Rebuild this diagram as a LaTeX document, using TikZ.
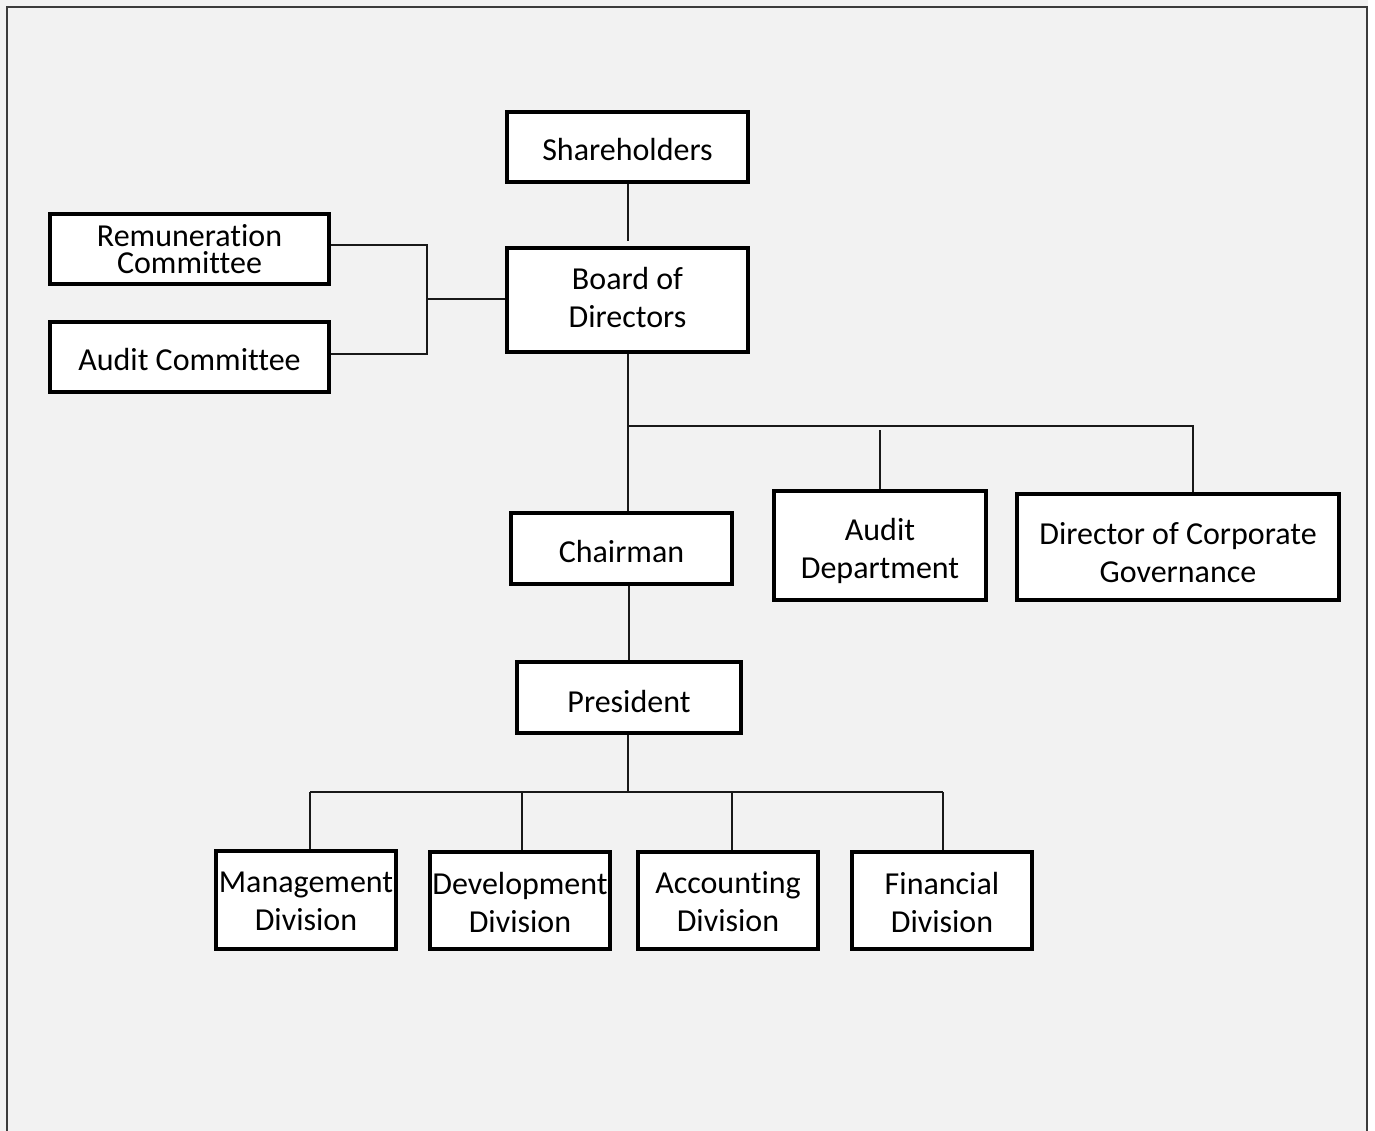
\documentclass[tikz,border=0pt]{standalone}
\usepackage{fontspec}
\setmainfont{Carlito}[Ligatures=NoCommon]
\definecolor{bggray}{HTML}{F2F2F2}
\definecolor{framegray}{HTML}{3C3C3C}
\newcommand\obox[7]{%
  \node[box,sz={#4}{#5}] (#1) at (#2,#3) {};
  \node[txt] (#1t) at (#2,#3+#6) {#7};}
\begin{document}
\begin{tikzpicture}[x=0.75pt,y=-0.75pt,
  box/.style={draw=black,fill=white,line width=3pt,inner sep=0pt},
  txt/.style={align=center,inner sep=0pt,font=\fontsize{24}{28.5}\selectfont},
  tight/.style={font=\fontsize{24}{20.25}\selectfont},
  sz/.style 2 args={minimum width=#1*0.75pt,minimum height=#2*0.75pt},
  conn/.style={draw=black!90,line width=1.3pt},
  frame/.style={draw=framegray,line width=1.6pt}]
\useasboundingbox (0,0) rectangle (1375,1131);
\fill[bggray] (0,0) rectangle (1375,1131);
\fill[white] (1368,0) rectangle (1375,1131);
\draw[frame] (7,1135) -- (7,7) -- (1367,7) -- (1367,1135);

% boxes: name, x, y, width, height, text shift, text
\obox{sh}{627.5}{147}{241}{70}{3}{Shareholders}
\obox{bd}{627.5}{300}{241}{104}{-2}{Board of\\Directors}
\node[box,sz={279}{70}] (rc) at (189.5,249) {};
\node[txt,tight] (rct) at (189.5,249) {Remuneration\\Committee};
\obox{ac}{189.5}{357}{279}{70}{3}{Audit Committee}
\obox{ch}{621.5}{548.5}{221}{71}{3}{Chairman}
\obox{ad}{880}{545.5}{212}{109}{5}{Audit\\Department}
\obox{dg}{1178}{547}{322}{106}{6}{Director of Corporate\\Governance}
\obox{pr}{629}{697.5}{224}{71}{4}{President}
\obox{mg}{306}{900}{180}{98}{1.5}{Management\\Division}
\obox{dv}{520}{900.5}{180}{97}{1.5}{Development\\Division}
\obox{acd}{728}{900.5}{180}{97}{1.5}{Accounting\\Division}
\obox{fd}{942}{900.5}{180}{97}{1.5}{Financial\\Division}

% junction coordinates
\coordinate (jr) at (427,245);
\coordinate (ja) at (427,354);
\coordinate (jm) at (427,299);
\coordinate (sb) at (628,241);
\coordinate (jb) at (628,426);
\coordinate (jd) at (1193,426);
\coordinate (jad) at (880,430);
\coordinate (pb) at (628,792);
\coordinate (b1) at (310,792);
\coordinate (b2) at (522,792);
\coordinate (b3) at (732,792);
\coordinate (b4) at (943,792);

% connectors
\draw[conn] (sh.south -| sb) -- (sb);
\draw[conn] (rc.east |- jr) -- (jr) -- (ja) -- (ac.east |- ja);
\draw[conn] (jm) -- (bd.west |- jm);
\draw[conn] (bd.south -| jb) -- (jb |- ch.north);
\draw[conn] (jb) -- (jd) -- (jd |- dg.north);
\draw[conn] (jad) -- (ad.north);
\draw[conn] (pr.north) -- (pr.north |- ch.south);
\draw[conn] (pr.south -| pb) -- (pb);
\draw[conn] (b1) -- (b4);
\draw[conn] (b1) -- (b1 |- mg.north);
\draw[conn] (b2) -- (b2 |- dv.north);
\draw[conn] (b3) -- (b3 |- acd.north);
\draw[conn] (b4) -- (b4 |- fd.north);
\end{tikzpicture}
\end{document}
